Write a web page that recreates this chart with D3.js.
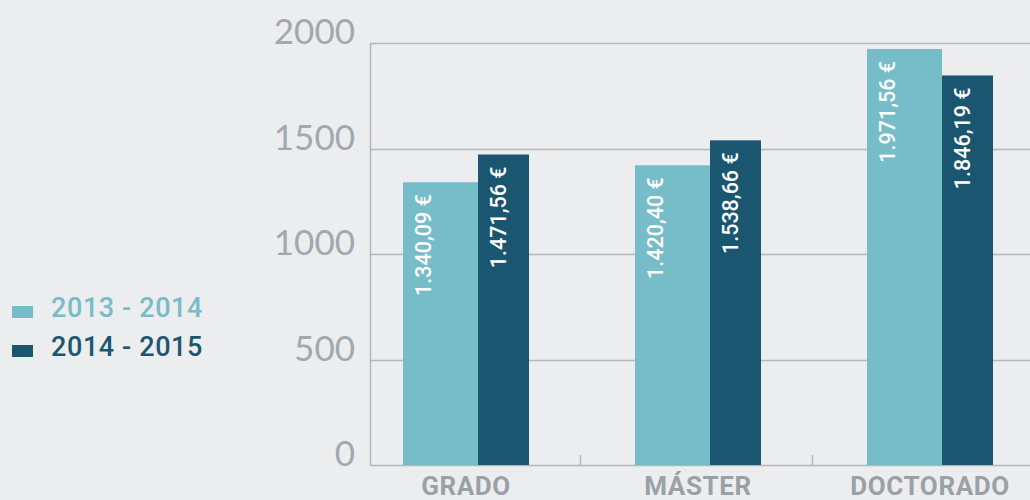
<!DOCTYPE html>
<html>
<head>
<meta charset="utf-8">
<script src="https://cdn.jsdelivr.net/npm/d3@7"></script>
<style>
  html, body { margin: 0; padding: 0; background: #ecedef; }
</style>
</head>
<body>
<div class="container"></div>
<script>
var categories = ['GRADO', 'MÁSTER', 'DOCTORADO'];
var seriesNames = ['2013 - 2014', '2014 - 2015'];
var values2013 = [1340.09, 1420.40, 1971.56];
var values2014 = [1471.56, 1538.66, 1846.19];
var valueLabels2013 = ['1.340,09 €', '1.420,40 €', '1.971,56 €'];
var valueLabels2014 = ['1.471,56 €', '1.538,66 €', '1.846,19 €'];
var yTicks = [0, 500, 1000, 1500, 2000];

var drawChart = function () {
    const WIDTH = 1030;
    const HEIGHT = 500;
    var colors = ['#76bcc9', '#1a566f'];
    var barWidths = [75, 51];

    var svg = d3.select('.container')
        .append('svg')
        .attr('width', WIDTH)
        .attr('height', HEIGHT)
        .style('display', 'block');

    svg.append('rect')
        .attr('width', WIDTH)
        .attr('height', HEIGHT)
        .style('fill', '#ecedef');

    var y = d3.scaleLinear().domain([0, 2000]).range([465, 43]);
    var x = d3.scaleBand().domain(categories).range([348, 1044]);

    // gridlines
    svg.append('g')
        .selectAll('line')
        .data(yTicks)
        .enter()
        .append('line')
        .attr('x1', 370)
        .attr('x2', WIDTH)
        .attr('y1', function (d) { return Math.round(y(d)) + 0.5; })
        .attr('y2', function (d) { return Math.round(y(d)) + 0.5; })
        .style('stroke', '#b3b7ba')
        .style('stroke-width', 1.5);

    svg.append('line')
        .attr('x1', 370.5).attr('x2', 370.5)
        .attr('y1', y(2000)).attr('y2', y(0) + 1)
        .style('stroke', '#b3b7ba')
        .style('stroke-width', 1.5);

    // category boundary ticks
    svg.append('g')
        .selectAll('line')
        .data(categories.slice(1))
        .enter()
        .append('line')
        .attr('x1', function (d) { return x(d) + 0.5; })
        .attr('x2', function (d) { return x(d) + 0.5; })
        .attr('y1', y(0) - 10)
        .attr('y2', y(0))
        .style('stroke', '#b3b7ba')
        .style('stroke-width', 1.5);

    // y tick labels
    svg.append('g')
        .selectAll('text')
        .data(yTicks)
        .enter()
        .append('text')
        .attr('x', 355)
        .attr('y', function (d) { return y(d) + 1; })
        .attr('text-anchor', 'end')
        .style('font-family', 'Lato, "Open Sans", sans-serif')
        .style('font-weight', 400)
        .style('font-size', '35px')
        .style('fill', '#a2a8ab')
        .text(function (d) { return d; });

    // bars
    var series = [
        { values: values2013, labels: valueLabels2013 },
        { values: values2014, labels: valueLabels2014 }
    ];
    var groupOffset = 55;

    series.forEach(function (s, si) {
        var rows = categories.map(function (c, i) {
            var bx = x(c) + groupOffset + (si === 1 ? barWidths[0] : 0);
            return { cat: c, value: s.values[i], label: s.labels[i], x: bx };
        });
        var g = svg.append('g');
        g.selectAll('rect')
            .data(rows)
            .enter()
            .append('rect')
            .attr('x', function (d) { return d.x; })
            .attr('y', function (d) { return y(d.value); })
            .attr('width', barWidths[si])
            .attr('height', function (d) { return y(0) - y(d.value); })
            .style('fill', colors[si]);

        g.selectAll('text')
            .data(rows)
            .enter()
            .append('text')
            .attr('transform', function (d) {
                return 'translate(' + (d.x + 20) + ',' + (y(d.value) + 12) + ') rotate(-90)';
            })
            .attr('text-anchor', 'end')
            .attr('dominant-baseline', 'central')
            .style('font-family', 'Roboto, sans-serif')
            .style('font-weight', 500)
            .style('font-size', '21.5px')
            .style('fill', '#ffffff')
            .text(function (d) { return d.label; });
    });

    // category labels
    svg.append('g')
        .selectAll('text')
        .data(categories)
        .enter()
        .append('text')
        .attr('x', function (d) { return x(d) + groupOffset + (barWidths[0] + barWidths[1]) / 2; })
        .attr('y', 495)
        .attr('text-anchor', 'middle')
        .style('font-family', 'Roboto, sans-serif')
        .style('font-weight', 700)
        .style('font-size', '26px')
        .style('letter-spacing', '0.6px')
        .style('fill', '#9aa1a6')
        .text(function (d) { return d; });

    // legend
    var legend = svg.append('g')
        .selectAll('g')
        .data(seriesNames)
        .enter()
        .append('g')
        .attr('transform', function (d, i) { return 'translate(12,' + (306 + i * 39) + ')'; });

    legend.append('rect')
        .attr('width', 21)
        .attr('height', 12)
        .style('fill', function (d, i) { return colors[i]; });

    legend.append('text')
        .attr('x', 39)
        .attr('y', 11)
        .style('font-family', 'Roboto, sans-serif')
        .style('font-weight', 500)
        .style('font-size', '27px')
        .style('letter-spacing', '0.6px')
        .style('fill', function (d, i) { return colors[i]; })
        .text(function (d) { return d; });
};
window.onload = drawChart;
</script>
</body>
</html>
